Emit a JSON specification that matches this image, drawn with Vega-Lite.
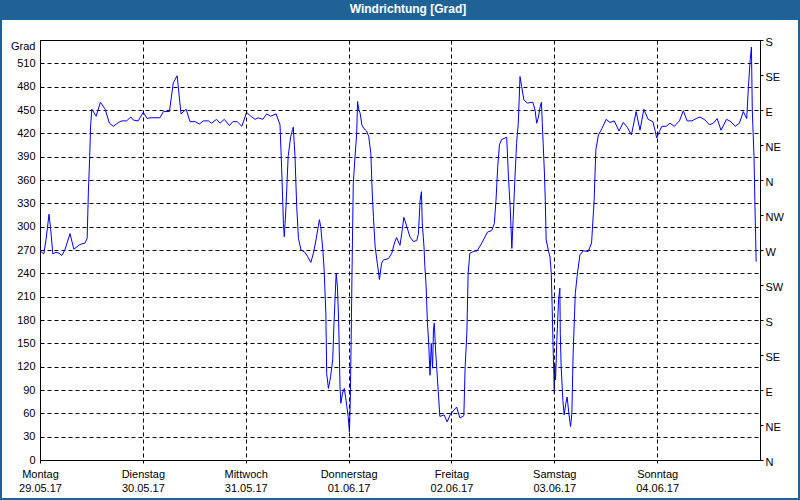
{
  "$schema": "https://vega.github.io/schema/vega-lite/v6.json",
  "width": 720,
  "height": 420,
  "autosize": {"type": "none"},
  "padding": {"left": 40, "top": 40, "right": 40, "bottom": 40},
  "background": "#ffffff",
  "title": {"text": "Windrichtung [Grad]", "color": "#ffffff", "font": "Liberation Sans", "fontSize": 12, "fontWeight": "bold", "anchor": "middle", "frame": "group", "baseline": "alphabetic", "offset": -25, "dx": 8},
  "config": {
    "view": {"stroke": "#000000", "strokeWidth": 1},
    "axis": {"labelFont": "Liberation Sans", "labelFontSize": 11, "labelColor": "#000000", "domainColor": "#000000", "domainWidth": 1, "tickColor": "#000000", "tickWidth": 1, "gridColor": "#000000", "gridDash": [4, 3], "gridOpacity": 1, "gridWidth": 1}
  },
  "data": {"values": [
    {"h":0,"v":269},{"h":0.9,"v":265},{"h":1.4,"v":283},{"h":2.1,"v":316},{"h":2.5,"v":296},{"h":3.0,"v":265},{"h":3.7,"v":267},{"h":4.4,"v":266},{"h":5.1,"v":263},{"h":5.8,"v":270},{"h":7.0,"v":291},{"h":7.9,"v":271},{"h":9.3,"v":277},{"h":10.5,"v":279},{"h":11.0,"v":285},{"h":11.3,"v":347},{"h":11.6,"v":390},{"h":11.8,"v":429},{"h":12.1,"v":451},{"h":13.1,"v":442},{"h":14.1,"v":460},{"h":15.2,"v":451},{"h":16.2,"v":433},{"h":17.1,"v":429},{"h":18.3,"v":434},{"h":19.1,"v":436},{"h":20.2,"v":436},{"h":21.2,"v":441},{"h":21.8,"v":437},{"h":22.9,"v":436},{"h":24.1,"v":447},{"h":25.0,"v":439},{"h":25.7,"v":440},{"h":28.0,"v":440},{"h":28.8,"v":448},{"h":30.2,"v":448},{"h":31.1,"v":485},{"h":32.0,"v":494},{"h":32.9,"v":445},{"h":34.1,"v":451},{"h":35.0,"v":435},{"h":36.2,"v":435},{"h":37.2,"v":432},{"h":38.1,"v":436},{"h":39.3,"v":436},{"h":40.0,"v":433},{"h":41.2,"v":438},{"h":42.0,"v":433},{"h":43.0,"v":438},{"h":44.2,"v":430},{"h":45.0,"v":435},{"h":46.0,"v":435},{"h":47.1,"v":429},{"h":48.2,"v":447},{"h":49.2,"v":442},{"h":50.2,"v":438},{"h":50.9,"v":440},{"h":52.0,"v":438},{"h":52.9,"v":445},{"h":53.8,"v":442},{"h":55.1,"v":445},{"h":56.0,"v":431},{"h":56.4,"v":373},{"h":56.8,"v":304},{"h":57.0,"v":287},{"h":57.4,"v":326},{"h":57.9,"v":390},{"h":58.5,"v":416},{"h":58.9,"v":424},{"h":59.1,"v":428},{"h":59.5,"v":390},{"h":59.9,"v":326},{"h":60.3,"v":285},{"h":60.9,"v":270},{"h":61.8,"v":267},{"h":62.4,"v":262},{"h":63.2,"v":254},{"h":63.8,"v":266},{"h":64.4,"v":283},{"h":65.2,"v":309},{"h":65.5,"v":300},{"h":66.0,"v":270},{"h":66.3,"v":244},{"h":66.7,"v":189},{"h":66.9,"v":111},{"h":67.3,"v":92},{"h":67.8,"v":107},{"h":68.3,"v":129},{"h":68.6,"v":176},{"h":69.1,"v":240},{"h":69.4,"v":223},{"h":69.7,"v":176},{"h":70.0,"v":94},{"h":70.2,"v":73},{"h":70.6,"v":86},{"h":71.0,"v":92},{"h":71.4,"v":77},{"h":71.9,"v":56},{"h":72.2,"v":36},{"h":72.4,"v":77},{"h":72.6,"v":154},{"h":72.8,"v":240},{"h":73.1,"v":356},{"h":73.5,"v":390},{"h":73.9,"v":420},{"h":74.1,"v":461},{"h":74.4,"v":450},{"h":74.7,"v":446},{"h":75.1,"v":431},{"h":75.6,"v":426},{"h":76.2,"v":423},{"h":76.7,"v":416},{"h":77.2,"v":394},{"h":77.5,"v":347},{"h":77.8,"v":313},{"h":78.2,"v":274},{"h":78.7,"v":253},{"h":79.2,"v":232},{"h":79.7,"v":253},{"h":80.1,"v":257},{"h":81.3,"v":259},{"h":82.1,"v":266},{"h":82.7,"v":279},{"h":83.2,"v":286},{"h":84.0,"v":276},{"h":84.4,"v":291},{"h":84.9,"v":312},{"h":85.6,"v":300},{"h":86.3,"v":287},{"h":87.1,"v":281},{"h":87.9,"v":282},{"h":88.3,"v":291},{"h":88.7,"v":334},{"h":89.0,"v":345},{"h":89.2,"v":304},{"h":89.6,"v":274},{"h":89.8,"v":249},{"h":90.1,"v":223},{"h":90.4,"v":176},{"h":90.7,"v":150},{"h":91.0,"v":109},{"h":91.3,"v":150},{"h":91.6,"v":118},{"h":91.8,"v":167},{"h":92.0,"v":176},{"h":92.3,"v":141},{"h":92.6,"v":116},{"h":92.9,"v":90},{"h":93.3,"v":56},{"h":94.3,"v":58},{"h":95.0,"v":49},{"h":95.7,"v":58},{"h":96.4,"v":63},{"h":97.2,"v":68},{"h":98.0,"v":54},{"h":98.9,"v":57},{"h":99.2,"v":120},{"h":99.6,"v":163},{"h":99.9,"v":240},{"h":100.3,"v":266},{"h":101.1,"v":268},{"h":102.0,"v":269},{"h":103.1,"v":279},{"h":104.4,"v":293},{"h":105.4,"v":295},{"h":106.0,"v":304},{"h":106.4,"v":334},{"h":106.8,"v":377},{"h":107.2,"v":405},{"h":107.7,"v":412},{"h":108.9,"v":415},{"h":109.3,"v":364},{"h":109.7,"v":326},{"h":110.1,"v":272},{"h":110.4,"v":309},{"h":110.8,"v":360},{"h":111.2,"v":407},{"h":111.6,"v":433},{"h":112.0,"v":493},{"h":112.4,"v":480},{"h":112.9,"v":463},{"h":113.7,"v":459},{"h":115.0,"v":460},{"h":115.5,"v":450},{"h":115.9,"v":433},{"h":116.3,"v":441},{"h":116.7,"v":454},{"h":117.0,"v":460},{"h":117.2,"v":433},{"h":117.4,"v":407},{"h":117.7,"v":369},{"h":117.9,"v":334},{"h":118.1,"v":283},{"h":118.6,"v":270},{"h":119.0,"v":261},{"h":119.3,"v":240},{"h":119.5,"v":197},{"h":119.7,"v":150},{"h":119.9,"v":111},{"h":120.0,"v":86},{"h":120.1,"v":124},{"h":120.3,"v":103},{"h":120.6,"v":154},{"h":120.8,"v":180},{"h":121.0,"v":206},{"h":121.3,"v":221},{"h":121.4,"v":163},{"h":121.6,"v":120},{"h":122.0,"v":77},{"h":122.3,"v":58},{"h":122.7,"v":73},{"h":123.0,"v":81},{"h":123.4,"v":60},{"h":123.8,"v":43},{"h":124.1,"v":60},{"h":124.4,"v":137},{"h":124.9,"v":214},{"h":125.4,"v":240},{"h":126.0,"v":264},{"h":126.8,"v":269},{"h":127.9,"v":268},{"h":128.7,"v":279},{"h":129.3,"v":334},{"h":129.7,"v":399},{"h":130.3,"v":418},{"h":131.1,"v":426},{"h":132.1,"v":438},{"h":133.0,"v":434},{"h":134.0,"v":436},{"h":135.1,"v":423},{"h":136.1,"v":434},{"h":137.0,"v":428},{"h":138.0,"v":418},{"h":139.1,"v":448},{"h":140.0,"v":424},{"h":140.9,"v":451},{"h":141.9,"v":438},{"h":143.0,"v":435},{"h":143.5,"v":424},{"h":143.9,"v":414},{"h":144.5,"v":422},{"h":145.1,"v":429},{"h":146.1,"v":429},{"h":147.0,"v":433},{"h":148.0,"v":429},{"h":149.2,"v":436},{"h":150.1,"v":449},{"h":151.0,"v":436},{"h":152.1,"v":436},{"h":153.1,"v":439},{"h":154.0,"v":441},{"h":155.2,"v":437},{"h":156.2,"v":431},{"h":157.1,"v":433},{"h":158.0,"v":439},{"h":158.9,"v":424},{"h":160.2,"v":438},{"h":161.2,"v":435},{"h":162.2,"v":429},{"h":163.2,"v":433},{"h":164.1,"v":448},{"h":164.9,"v":439},{"h":165.3,"v":480},{"h":165.7,"v":514},{"h":166.0,"v":531},{"h":166.2,"v":450},{"h":166.6,"v":390},{"h":166.8,"v":334},{"h":167.0,"v":283},{"h":167.1,"v":255}
  ]},
  "layer": [
    {
      "mark": {"type": "line", "color": "#0000ff", "strokeWidth": 1, "interpolate": "linear"},
      "encoding": {
        "x": {
          "field": "h", "type": "quantitative",
          "scale": {"domain": [0, 168], "nice": false, "zero": false},
          "axis": {
            "title": null, "values": [0, 24, 48, 72, 96, 120, 144],
            "grid": true, "tickSize": 3, "labelPadding": 5, "zindex": 1,
            "labelFlush": false, "labelOverlap": false, "labelAlign": "center", "labelBaseline": "top", "labelLineHeight": 14,
            "labelExpr": "[['Montag','29.05.17'],['Dienstag','30.05.17'],['Mittwoch','31.05.17'],['Donnerstag','01.06.17'],['Freitag','02.06.17'],['Samstag','03.06.17'],['Sonntag','04.06.17']][round(datum.value/24)]"
          }
        },
        "y": {
          "field": "v", "type": "quantitative",
          "scale": {"domain": [0, 540], "nice": false, "zero": false},
          "axis": {
            "title": null, "orient": "left",
            "values": [0, 30, 60, 90, 120, 150, 180, 210, 240, 270, 300, 330, 360, 390, 420, 450, 480, 510, 540],
            "grid": true, "ticks": false, "labelPadding": 5, "labelOverlap": false, "labelFlush": false,
            "labelBaseline": {"condition": {"test": "datum.value == 540", "value": "top"}, "value": "middle"},
            "labelExpr": "datum.value == 540 ? 'Grad' : datum.label"
          }
        }
      }
    },
    {
      "mark": {"type": "line", "strokeOpacity": 0},
      "encoding": {
        "x": {"field": "h", "type": "quantitative", "scale": {"domain": [0, 168], "nice": false, "zero": false}},
        "y": {
          "field": "v", "type": "quantitative",
          "scale": {"domain": [0, 540], "nice": false, "zero": false},
          "axis": {
            "title": null, "orient": "right",
            "values": [0, 45, 90, 135, 180, 225, 270, 315, 360, 405, 450, 495, 540],
            "grid": false, "ticks": true, "tickSize": 3, "labelPadding": 2, "labelOffset": 2,
            "labelOverlap": false, "labelFlush": false,
            "labelExpr": "['N','NE','E','SE','S','SW','W','NW','N','NE','E','SE','S'][round(datum.value/45)]"
          }
        }
      }
    },
    {
      "data": {"values": [{"teil": "Titelleiste"}]},
      "mark": {"type": "rect", "fill": "#1f6396"},
      "encoding": {
        "x": {"datum": -9.3334, "type": "quantitative"},
        "x2": {"datum": 177.3334},
        "y": {"datum": 565.71, "type": "quantitative", "axis": null},
        "y2": {"datum": 591.43}
      }
    },
    {
      "data": {"values": [{"teil": "Rahmen"}]},
      "mark": {"type": "rect", "filled": false, "stroke": "#1f6396", "strokeWidth": 2},
      "encoding": {
        "x": {"datum": -9.1, "type": "quantitative"},
        "x2": {"datum": 177.1},
        "y": {"datum": -50.14, "type": "quantitative", "axis": null},
        "y2": {"datum": 590.14}
      }
    }
  ],
  "resolve": {"axis": {"y": "independent"}}
}
